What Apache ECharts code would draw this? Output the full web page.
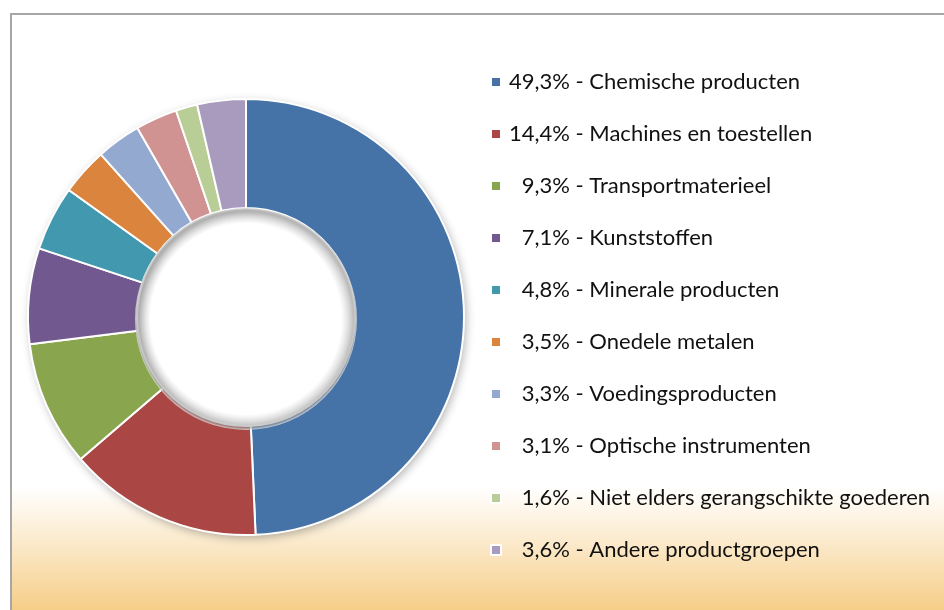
<!DOCTYPE html>
<html><head><meta charset="utf-8">
<script src="https://cdn.jsdelivr.net/npm/echarts@6/dist/echarts.min.js"></script>
<style>
html,body{margin:0;padding:0;background:#fff;width:944px;height:610px;overflow:hidden}
#frame{position:absolute;left:10px;top:13px;width:934px;height:597px;border-left:2px solid #a6a6a6;border-top:2px solid #a6a6a6}
#chart{width:934px;height:597px}
</style></head>
<body><div id="frame"><div id="chart"></div></div>
<script>
const categories = ["Chemische producten","Machines en toestellen","Transportmaterieel","Kunststoffen","Minerale producten","Onedele metalen","Voedingsproducten","Optische instrumenten","Niet elders gerangschikte goederen","Andere productgroepen"];
const shares = [49.3,14.4,9.3,7.1,4.8,3.5,3.3,3.1,1.6,3.6];
const colors = ["#4572A7","#AA4643","#89A54E","#71588F","#4198AF","#DB843D","#93A9CF","#D19392","#B9CD96","#A99BBD"];

const fmt = v => (v < 10 ? "\u2007" : "") + v.toFixed(1).replace(".", ",") + "%";
const lookup = {};
categories.forEach((c,i)=>lookup[c]=shares[i]);

const chart = echarts.init(document.getElementById('chart'));
const center = [234, 302];
chart.setOption({
  backgroundColor: {type:'linear',x:0,y:0,x2:0,y2:1,colorStops:[
    {offset:0,color:'#ffffff'},{offset:0.79,color:'#ffffff'},
    {offset:0.87,color:'#fcedd3'},{offset:1,color:'#f5cd86'}]},
  legend: {
    orient:'vertical', left:473, top:51, padding:5, itemGap:30,
    icon:'rect', itemWidth:10, itemHeight:10,
    data: categories,
    textStyle:{fontFamily:'Lato', fontSize:22, color:'#111', lineHeight:22, padding:[0,0,0,3]},
    formatter: n => fmt(lookup[n]) + " - " + n
  },
  series: [
    {type:'pie', silent:true, center:center, radius:[109,218], z:1,
     label:{show:false}, labelLine:{show:false},
     itemStyle:{color:'#fff', shadowBlur:10, shadowColor:'rgba(0,0,0,0.3)', shadowOffsetX:2, shadowOffsetY:3},
     data:[{value:1, name:'_shadow'}]},
    {type:'pie', center:center, radius:[109,218], startAngle:90, clockwise:true, z:2,
     label:{show:false}, labelLine:{show:false},
     itemStyle:{borderColor:'#ffffff', borderWidth:2},
     emphasis:{disabled:true},
     data: categories.map((c,i)=>({name:c, value:shares[i], itemStyle:{color:colors[i]}}))},
    {type:'pie', silent:true, center:[center[0], center[1]+2], radius:[94,111], z:3,
     label:{show:false}, labelLine:{show:false},
     itemStyle:{borderWidth:0,
       color:{type:'radial',x:0.5,y:0.5,r:0.5,colorStops:[
         {offset:0,color:'rgba(255,255,255,0)'},
         {offset:0.86,color:'rgba(120,120,120,0)'},
         {offset:0.96,color:'rgba(110,110,110,0.35)'},
         {offset:0.985,color:'rgba(180,180,180,0.7)'},
         {offset:1,color:'rgba(220,220,220,0.9)'}]}},
     data:[{value:1,name:'_inner'}]}
  ]
});
</script></body></html>
